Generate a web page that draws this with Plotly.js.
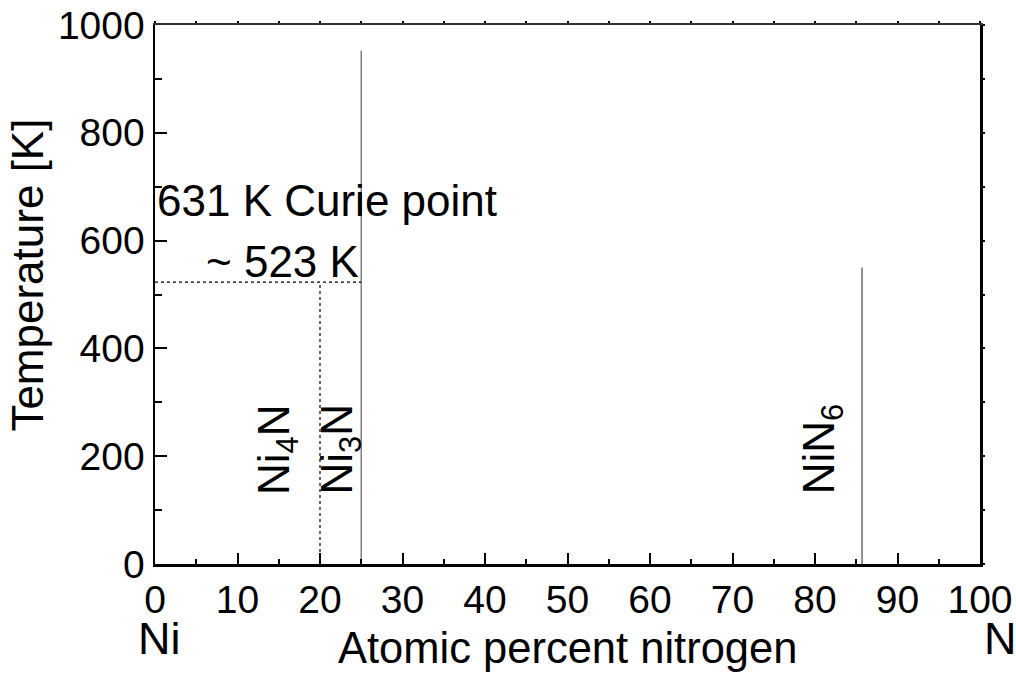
<!DOCTYPE html>
<html>
<head>
<meta charset="utf-8">
<script src="https://cdn.plot.ly/plotly-3.0.1.min.js"></script>
<style>html,body{margin:0;padding:0;background:#fff;}#chart{width:1016px;height:673px;}</style>
</head>
<body>
<div id="chart"></div>
<script>
// Phase lines: composition (at.% N) and upper temperature (K)
const phaseNames = ["Ni3N", "NiN6"];
const phaseX = [25, 85.7];
const phaseTop = [952, 550];
const phaseColors = ["#808080", "#222222"];
const phaseWidths = [1.5, 1];

// Ni4N guide (dotted)
const ni4nX = 20;
const ni4nT = 523;

// Tick values
const xTicks = [0, 10, 20, 30, 40, 50, 60, 70, 80, 90, 100];
const yTicks = [0, 200, 400, 600, 800, 1000];

const FONT = "Liberation Sans, Arial, sans-serif";

const traces = [];
phaseX.forEach((x, i) => {
  traces.push({
    x: [x, x], y: [0, phaseTop[i]], mode: "lines", name: phaseNames[i],
    line: {color: phaseColors[i], width: phaseWidths[i]}, hoverinfo: "skip", showlegend: false
  });
});
// dotted horizontal at 523 K from 0 to Ni3N
traces.push({
  x: [0, phaseX[0]], y: [ni4nT, ni4nT], mode: "lines",
  line: {color: "#000", width: 1.2, dash: "dot"}, showlegend: false, hoverinfo: "skip"
});
// dotted vertical at Ni4N
traces.push({
  x: [ni4nX, ni4nX], y: [0, ni4nT], mode: "lines",
  line: {color: "#000", width: 1.2, dash: "dot"}, showlegend: false, hoverinfo: "skip"
});
// empty trace for mirror axes
traces.push({x: [0, 100], y: [0, 1000], xaxis: "x2", yaxis: "y2", mode: "lines",
  line: {width: 0, color: "rgba(0,0,0,0)"}, showlegend: false, hoverinfo: "skip"});

const layout = {
  width: 1016, height: 673,
  margin: {l: 154.5, r: 35.5, t: 25, b: 108.7},
  paper_bgcolor: "#fff", plot_bgcolor: "#fff",
  showlegend: false,
  font: {family: FONT, color: "#000"},
  xaxis: {
    range: [0, 100], tickvals: xTicks, ticktext: xTicks.map(String),
    ticks: "inside", ticklen: 11, tickwidth: 2, tickcolor: "#000",
    minor: {dtick: 5, tick0: 0, ticks: "inside", ticklen: 5, tickwidth: 2, tickcolor: "#000"},
    showline: true, linecolor: "#000", linewidth: 2.5,
    showgrid: false, zeroline: false,
    tickfont: {size: 39, family: FONT}
  },
  yaxis: {
    range: [0, 1000], tickvals: yTicks, ticktext: yTicks.map(String),
    ticks: "inside", ticklen: 12, tickwidth: 2, tickcolor: "#000",
    minor: {dtick: 100, tick0: 0, ticks: "inside", ticklen: 7, tickwidth: 2, tickcolor: "#000"},
    showline: true, linecolor: "#000", linewidth: 2.5,
    showgrid: false, zeroline: false,
    tickfont: {size: 39, family: FONT}
  },
  xaxis2: {
    overlaying: "x", side: "top", range: [0, 100], dtick: 5, tick0: 0,
    ticks: "outside", ticklen: 2, tickwidth: 2, tickcolor: "#000",
    showticklabels: false, showline: true, linecolor: "#333", linewidth: 2,
    showgrid: false, zeroline: false
  },
  yaxis2: {
    overlaying: "y", side: "right", range: [0, 1000], dtick: 100, tick0: 0,
    ticks: "outside", ticklen: 2, tickwidth: 2, tickcolor: "#000",
    showticklabels: false, showline: true, linecolor: "#000", linewidth: 2.5,
    showgrid: false, zeroline: false, anchor: "x2"
  },
  annotations: [
    // axis titles
    {x: 0, y: 536, xref: "paper", yref: "y", text: "Temperature [K]", showarrow: false,
      textangle: -90, xanchor: "center", yanchor: "middle", xshift: -127.5, font: {size: 44, family: FONT}},
    {x: 0.5, y: 0, xref: "paper", yref: "paper", text: "Atomic percent nitrogen", showarrow: false,
      xanchor: "center", yanchor: "middle", yshift: -84, font: {size: 43.5, family: FONT}},
    {x: 0, y: 675, xref: "x", yref: "y", text: "631 K Curie point", showarrow: false,
      xanchor: "left", yanchor: "middle", xshift: 0, font: {size: 44, family: FONT}},
    {x: phaseX[0], y: ni4nT, xref: "x", yref: "y", text: "~ 523 K", showarrow: false,
      xanchor: "right", yanchor: "bottom", xshift: 0, yshift: -6, font: {size: 44, family: FONT}},
    {x: 14.7, y: 212, xref: "x", yref: "y", text: "Ni<sub>4</sub>N", showarrow: false,
      textangle: -90, xanchor: "center", yanchor: "middle", font: {size: 44, family: FONT}},
    {x: 22.4, y: 212, xref: "x", yref: "y", text: "Ni<sub>3</sub>N", showarrow: false,
      textangle: -90, xanchor: "center", yanchor: "middle", font: {size: 44, family: FONT}},
    {x: 80.8, y: 212, xref: "x", yref: "y", text: "NiN<sub>6</sub>", showarrow: false,
      textangle: -90, xanchor: "center", yanchor: "middle", font: {size: 44, family: FONT}},
    {x: 0, y: 0, xref: "x", yref: "paper", text: "Ni", showarrow: false,
      xanchor: "center", yanchor: "middle", xshift: 4, yshift: -74, font: {size: 45, family: FONT}},
    {x: 100, y: 0, xref: "x", yref: "paper", text: "N", showarrow: false,
      xanchor: "center", yanchor: "middle", xshift: 20, yshift: -74, font: {size: 45, family: FONT}}
  ]
};

Plotly.newPlot("chart", traces, layout, {displayModeBar: false, staticPlot: true});
</script>
</body>
</html>
